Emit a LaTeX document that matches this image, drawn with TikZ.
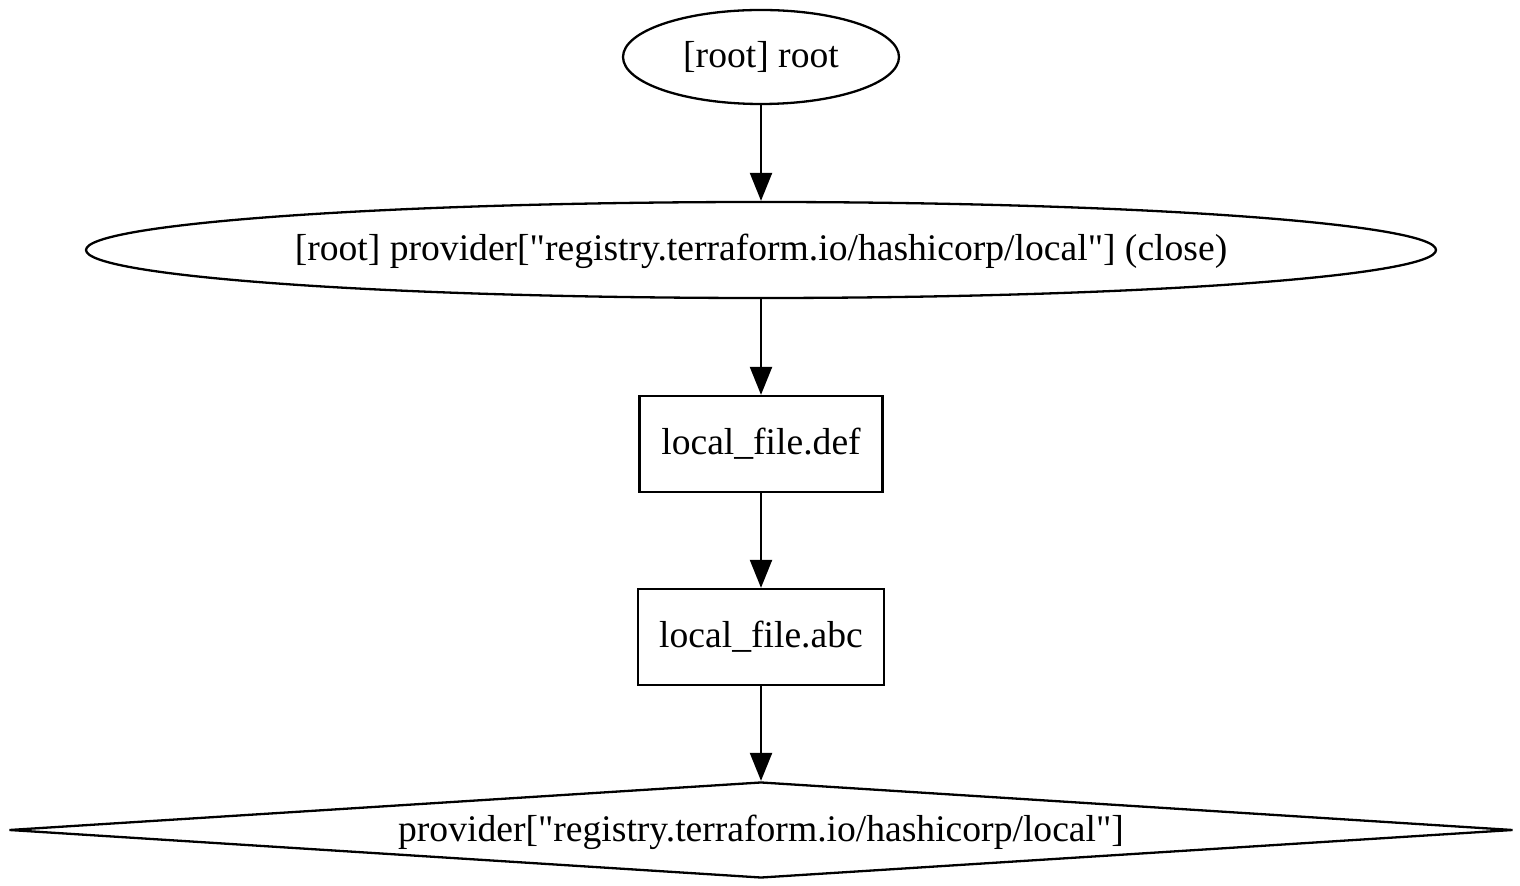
\documentclass[tikz,border=0pt]{standalone}
\usepackage{fontspec}
\setmainfont{Liberation Serif}
\usetikzlibrary{shapes.geometric,arrows.meta}
\begin{document}
\begin{tikzpicture}[x=0.5pt,y=-0.5pt,
  every node/.style={font=\fontsize{18.8pt}{22pt}\selectfont, inner sep=0pt, line width=1.15pt, draw=black, text height=14pt, text depth=3pt},
  ell/.style={ellipse},
  boxnode/.style={rectangle},
  dia/.style={diamond, aspect=15.67},
  conn/.style={line width=1.15pt, -{Triangle[length=14pt,width=11pt]}}]
\useasboundingbox (0,0) rectangle (1520,886);
\node[ell, minimum width=138pt, minimum height=47pt] (root) at (761,57) {[root] root};
\node[ell, minimum width=675pt, minimum height=48pt] (close) at (761,250) {[root] provider[\textquotedbl registry.terraform.io/hashicorp/local\textquotedbl] (close)};
\node[boxnode, minimum width=121.5pt, minimum height=48pt] (def) at (761,444) {local\_file.def};
\node[boxnode, minimum width=123pt, minimum height=48pt] (abc) at (761,637) {local\_file.abc};
\node[dia, minimum width=752pt, minimum height=48pt] (prov) at (761,830) {provider[\textquotedbl registry.terraform.io/hashicorp/local\textquotedbl]};
\draw[conn] (root) -- (close);
\draw[conn] (close) -- (def);
\draw[conn] (def) -- (abc);
\draw[conn] (abc) -- (prov);
\end{tikzpicture}
\end{document}
